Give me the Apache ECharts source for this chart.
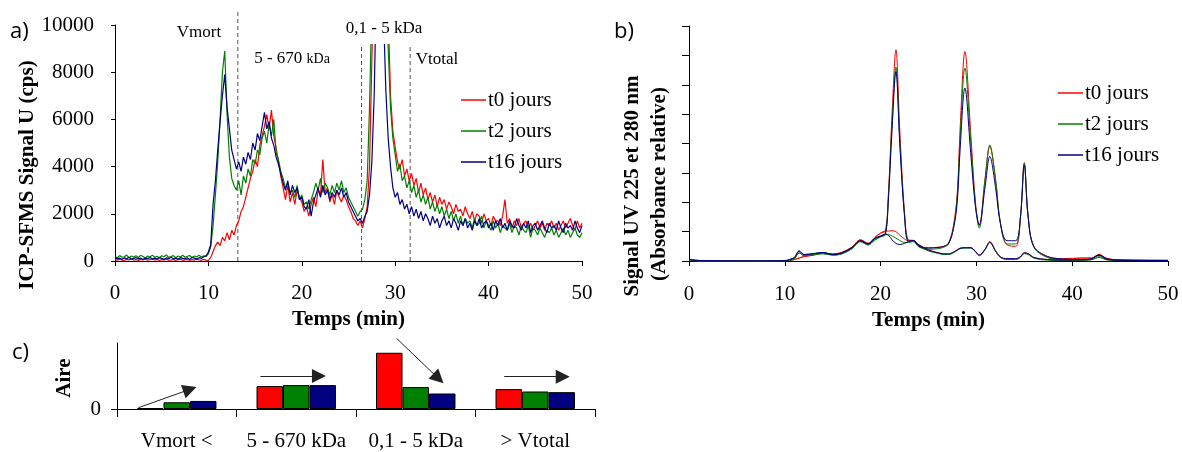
<!DOCTYPE html>
<html><head><meta charset="utf-8">
<script src="https://cdn.jsdelivr.net/npm/echarts@6/dist/echarts.min.js"></script>
<style>html,body{margin:0;padding:0;background:#fff}#c{width:1182px;height:452px}</style>
</head><body><div id="c"></div>
<script>
const SERIF = 'Liberation Serif';
const SANS = 'Open Sans';
const seriesNames = ['t0 jours', 't2 jours', 't16 jours'];
const seriesColors = ['#ff0000', '#008000', '#000080'];

// ---- panel a : ICP-SFMS signal U (cps), one value every 0.25 min, one row per minute ----
const icpStep = 0.25;
const icpT0 = [
 60,30,80,40, 20,70,50,90, 40,60,20,70, 50,80,30,60, 90,40,70,20,
 60,50,80,30, 40,70,20,60, 80,30,50,70, 20,60,40,80, 50,30,70,40,
 30,150,400,650, 800,650,1000,850, 1200,900,1300,1100, 1500,1700,2100,2300, 2700,3100,3500,3800,
 4300,4000,4900,5300, 5700,6200,5600,6400, 5300,4800,4200,3600, 3100,2600,3200,2500, 2900,2400,3000,2700,
 2500,2100,2300,1900, 2400,2700,2300,3000, 2800,4300,2900,3100, 2500,2800,2400,3000, 2700,2500,2800,2600,
 2300,2100,1800,1700, 1500,1700,1400,1800, 2300,4000,8500,13000, 18000,20000,19500,17000, 14000,10500,7000,5500,
 4800,4200,3900,4300, 3600,3900,3400,3700, 3200,3500,2900,3300, 2800,3100,2600,2900, 2500,2800,2300,2700,
 2400,2600,2200,2500, 2300,2000,2400,2100, 2200,1900,2300,2000, 1800,2100,1700,2000, 1900,1600,2000,1700,
 1800,1500,1900,1700, 1700,1500,1900,2600, 1600,1800,1400,1700, 1500,1800,1400,1600, 1700,1400,1600,1300,
 1500,1700,1400,1600, 1300,1600,1500,1700, 1400,1600,1300,1500, 1700,1400,1600,1800, 1500,1300,1700,1400,
 1600
];
const icpT2 = [
 200,140,230,160, 180,250,130,210, 170,220,150,240, 190,130,210,170, 250,160,200,140,
 220,180,260,150, 190,230,140,210, 170,240,160,200, 230,150,210,180, 240,170,220,190,
 300,600,1500,2800, 4200,6000,8000,8900, 6200,4400,3500,3200, 3000,3400,2800,3600, 3300,3900,3600,4300,
 4100,4700,4500,5200, 5500,5000,5800,5300, 6000,4600,4300,3800, 3500,3100,3300,2900, 3000,2700,3200,2600,
 2800,2400,2500,2200, 2600,2900,3300,3000, 3500,2900,3300,3100, 2800,3200,2900,3300, 3000,3400,2900,3100,
 2700,2500,2300,2100, 1900,2100,2200,2600, 3400,6500,11000,15000, 18000,19000,18000,16000, 12500,9000,6500,5200,
 4500,3800,4100,3400, 3600,3100,3400,2900, 3200,2700,3000,2500, 2800,2400,2700,2200, 2500,2100,2400,2000,
 2300,1900,2200,1800, 2100,1700,2000,1600, 1900,1500,1800,1600, 1700,1400,1800,1500, 1600,1900,1400,1700,
 1500,1300,1700,1400, 1600,1200,1500,1400, 1300,1600,1200,1500, 1400,1100,1500,1300, 1200,1500,1000,1400,
 1300,1100,1400,1200, 1000,1300,1200,1400, 1100,1300,1000,1200, 1400,1100,1300,1000, 1200,1400,1100,1000,
 1200
];
const icpT16 = [
 150,90,120,70, 130,100,160,80, 110,140,90,120, 60,130,100,150, 80,120,90,140,
 110,70,130,100, 160,90,120,80, 140,110,100,130, 70,150,120,90, 140,110,180,220,
 380,700,2400,3400, 4700,5900,7000,7900, 6500,5600,4700,4300, 3900,4200,3800,4400, 4100,4600,4300,5000,
 4700,5400,5100,5700, 6300,5600,5900,5200, 4900,4400,4100,3700, 3300,3000,3400,2800, 3200,2900,3100,2600,
 2700,2300,2200,2600, 1900,2500,2800,3100, 2700,3200,2800,3000, 2600,2900,2700,3000, 2800,3100,2700,2900,
 2500,2300,2100,1900, 1700,1800,1600,1900, 2100,2800,4200,7000, 12000,16000,15000,10500, 7200,5200,4000,3100,
 2700,2900,2400,2600, 2200,2400,2000,2300, 1900,2200,1800,2100, 1700,2000,1800,1500, 1900,1600,1800,1400,
 1700,1900,1500,1700, 1400,1800,1600,1300, 1700,1500,1800,1400, 1600,1300,1700,1500, 1800,1400,1600,1700,
 1400,1600,1300,1700, 1500,1800,1400,1600, 1300,1700,1500,1400, 1800,1500,1300,1600, 1400,1700,1200,1500,
 1600,1300,1500,1700, 1400,1200,1600,1400, 1500,1300,1700,1400, 1200,1600,1400,1500, 1300,1700,1400,1200,
 1500
];
const icpCutX = [13.15, 26.4, 31.6];      // Vmort | 5-670 kDa | 0,1-5 kDa | Vtotal boundaries (min)
const icpCutTop = [10550, 9100, 9200];     // top of each dashed boundary (cps)

// ---- panel b : UV absorbance (relative units), two traces per sample ----
const uvTime = [0,1,2,5,8, 10,10.5,11,11.5,12, 13,14,15,16,17, 17.9,18.7,19.4,20,20.5,
 20.8,21.2,21.6,22.0,22.5, 22.9,23.4,24,25,26, 26.6,27.1,27.6,28,28.3, 28.8,29.4,29.9,30.3,30.9,
 31.4,32.0,32.5,33.2,34.1, 34.6,35.0,35.4,36.0,37.4, 39,41,42,42.8,43.6, 45,50];
const uvTallT0 = [0.03,0.01,0,0,0, 0.01,0.02,0.05,0.1,0.15, 0.2,0.27,0.24,0.3,0.47, 0.72,0.6,0.8,0.95,1.02,
 2.2,5.05,7.19,4.47,1.63, 0.72,0.7,0.52,0.45,0.47, 0.5,0.62,1.2,2.3,4.5, 7.13,4.4,2.0,1.2,2.8,
 3.9,2.75,1.3,0.55,0.5, 1.5,3.35,1.55,0.5,0.16, 0.08,0.1,0.1,0.22,0.09, 0.03,0.02];
const uvTallT2 = [0.02,0,0,0,0, 0,0.02,0.08,0.28,0.18, 0.22,0.25,0.2,0.25,0.42, 0.66,0.55,0.72,0.82,0.9,
 2.1,4.7,6.6,4.1,1.55, 0.66,0.68,0.48,0.4,0.42, 0.47,0.58,1.1,2.2,4.2, 6.57,4.1,1.9,1.12,2.75,
 3.95,2.8,1.3,0.58,0.58, 1.5,3.3,1.5,0.47,0.12, 0.05,0.04,0.05,0.15,0.05, 0.02,0.01];
const uvTallT16 = [0.05,0.02,0.01,0,0, 0.01,0.05,0.12,0.34,0.22, 0.25,0.29,0.22,0.28,0.45, 0.69,0.58,0.77,0.85,0.92,
 2.0,4.5,6.45,4.0,1.5, 0.68,0.7,0.5,0.44,0.46, 0.5,0.6,1.1,2.0,3.8, 5.89,3.7,1.85,1.23,2.5,
 3.56,2.5,1.29,0.69,0.69, 1.5,3.27,1.5,0.49,0.15, 0.07,0.05,0.07,0.2,0.07, 0.03,0.02];
const uvShortT0 = [0.03,0.01,0,0,0, 0.01,0.02,0.05,0.1,0.15, 0.2,0.27,0.24,0.3,0.47, 0.72,0.6,0.8,0.95,1.02,
 1.02,1.03,1.0,0.88,0.75, 0.68,0.7,0.55,0.38,0.28, 0.24,0.24,0.3,0.38,0.44, 0.46,0.46,0.33,0.2,0.4,
 0.66,0.35,0.14,0.07,0.07, 0.15,0.28,0.25,0.12,0.05, 0.04,0.1,0.1,0.22,0.09, 0.03,0.02];
const uvShortT2 = [0.02,0,0,0,0, 0,0.02,0.08,0.28,0.18, 0.22,0.25,0.2,0.25,0.42, 0.66,0.55,0.72,0.82,0.9,
 0.9,0.85,0.78,0.7,0.63, 0.63,0.66,0.5,0.34,0.26, 0.22,0.22,0.28,0.36,0.42, 0.44,0.44,0.31,0.18,0.38,
 0.62,0.33,0.12,0.05,0.05, 0.12,0.25,0.22,0.1,0.03, 0.02,0.02,0.04,0.12,0.04, 0.01,0.01];
const uvShortT16 = [0.05,0.02,0.01,0,0, 0.01,0.05,0.12,0.34,0.22, 0.25,0.29,0.22,0.28,0.45, 0.69,0.58,0.77,0.85,0.92,
 0.88,0.72,0.6,0.56,0.6, 0.66,0.7,0.55,0.37,0.28, 0.24,0.24,0.3,0.38,0.43, 0.45,0.45,0.33,0.2,0.4,
 0.64,0.35,0.14,0.08,0.08, 0.15,0.28,0.25,0.12,0.05, 0.03,0.04,0.07,0.2,0.07, 0.03,0.02];

// ---- panel c : areas per fraction ----
const bandLabels = ['Vmort <', '5 - 670 kDa', '0,1 - 5 kDa', '> Vtotal'];
const areaT0 = [1.5, 34.7, 85.2, 30.1];
const areaT2 = [10.2, 36.2, 33.2, 26.5];
const areaT16 = [12.2, 36.2, 23.5, 25.5];
const trendFrom = [[0.18, 2], [1.2, 50], [2.34, 107], [3.24, 49]];   // arrows, x in category units
const trendTo = [[0.61, 29.8], [1.69, 50], [2.69, 46.2], [3.73, 49]];

const pairsStep = (vals, step) => vals.map((v, i) => [i * step, v]);
const pairsT = (ts, vals) => ts.map((t, i) => [t, vals[i]]);

const tickLabel = { fontFamily: SERIF, fontSize: 21, color: '#000' };
const blackLine = { show: true, onZero: false, lineStyle: { color: '#000', width: 1 } };
const nameStyle = { fontFamily: SERIF, fontSize: 21, fontWeight: 'bold', color: '#000' };
const plainNum = v => String(v);

const series = [];
[icpT0, icpT2, icpT16].forEach((vals, k) => series.push({
  type: 'line', name: seriesNames[k], xAxisIndex: 0, yAxisIndex: 0,
  data: pairsStep(vals, icpStep), symbol: 'none', showSymbol: false, clip: true,
  lineStyle: { color: seriesColors[k], width: 1.2 }, itemStyle: { color: seriesColors[k] }, z: 3
}));
icpCutX.forEach((x, k) => series.push({
  type: 'line', name: 'cut' + k, xAxisIndex: 3, yAxisIndex: 3, silent: true,
  data: [[x, 0], [x, icpCutTop[k]]], symbol: 'none',
  lineStyle: { color: '#555', width: 1, type: [4, 3] }, z: 1
}));
[[uvTallT0, uvShortT0], [uvTallT2, uvShortT2], [uvTallT16, uvShortT16]].forEach((pair, k) => {
  pair.forEach(vals => series.push({
    type: 'line', name: seriesNames[k], xAxisIndex: 1, yAxisIndex: 1,
    data: pairsT(uvTime, vals), symbol: 'none', showSymbol: false, smooth: 0.35,
    lineStyle: { color: seriesColors[k], width: 1 }, itemStyle: { color: seriesColors[k] }
  }));
});
[areaT0, areaT2, areaT16].forEach((vals, k) => series.push({
  type: 'bar', name: seriesNames[k], xAxisIndex: 2, yAxisIndex: 2, data: vals,
  barGap: '0%', barCategoryGap: '33.5%',
  itemStyle: { color: seriesColors[k], borderColor: '#000', borderWidth: 1 }
}));
series.push({
  type: 'line', name: 'trend', xAxisIndex: 4, yAxisIndex: 4, data: [], silent: true,
  markLine: {
    silent: true, symbol: ['none', 'triangle'], symbolSize: 14, label: { show: false },
    lineStyle: { color: '#222', width: 1, type: 'solid' },
    emphasis: { disabled: true },
    data: trendFrom.map((f, i) => [{ coord: f }, { coord: trendTo[i] }])
  }
});

const legendBase = {
  data: seriesNames.map((n, k) => ({ name: n, icon: 'rect', itemStyle: { color: seriesColors[k] } })),
  orient: 'vertical', itemWidth: 25, itemHeight: 1.5, itemGap: 7,
  textStyle: { fontFamily: SERIF, fontSize: 21, color: '#000', lineHeight: 24, padding: [0, 0, 0, -3] },
  selectedMode: false
};

const option = {
  animation: false,
  backgroundColor: '#fff',
  textStyle: { fontFamily: SERIF },
  grid: [
    { left: 115, top: 25, width: 467, height: 236 },
    { left: 689, top: 26, width: 479, height: 235 },
    { left: 117, top: 343, width: 478, height: 66 },
    { left: 115, top: 1.4, width: 467, height: 259.6 },
    { left: 117, top: 310, width: 478, height: 99 }
  ],
  legend: [
    Object.assign({}, legendBase, { left: 456, top: 83 }),
    Object.assign({}, legendBase, { left: 1053, top: 76 })
  ],
  xAxis: [
    { gridIndex: 0, type: 'value', min: 0, max: 50, interval: 10, axisLine: blackLine,
      axisTick: { show: true, length: 5, lineStyle: { color: '#000' } }, axisLabel: Object.assign({ margin: 22, formatter: plainNum }, tickLabel),
      splitLine: { show: false }, name: 'Temps (min)', nameLocation: 'middle', nameGap: 43, nameTextStyle: nameStyle },
    { gridIndex: 1, type: 'value', min: 0, max: 50, interval: 10, axisLine: blackLine,
      axisTick: { show: true, length: 5, lineStyle: { color: '#000' } }, axisLabel: Object.assign({ margin: 23, formatter: plainNum }, tickLabel),
      splitLine: { show: false }, name: 'Temps (min)', nameLocation: 'middle', nameGap: 43, nameTextStyle: nameStyle },
    { gridIndex: 2, type: 'category', data: bandLabels, axisLine: blackLine,
      axisTick: { show: true, length: 8, alignWithLabel: false, interval: 0, lineStyle: { color: '#000' } },
      axisLabel: Object.assign({ margin: 22, interval: 0, hideOverlap: false }, tickLabel), splitLine: { show: false } },
    { gridIndex: 3, type: 'value', min: 0, max: 50, show: false },
    { gridIndex: 4, type: 'value', min: 0, max: 4, show: false }
  ],
  yAxis: [
    { gridIndex: 0, type: 'value', min: 0, max: 10000, interval: 2000, axisLine: blackLine,
      axisTick: { show: true, length: 4, lineStyle: { color: '#000' } }, axisLabel: Object.assign({ margin: 21, formatter: plainNum }, tickLabel),
      splitLine: { show: false } },
    { gridIndex: 1, type: 'value', min: 0, max: 8, interval: 1, axisLine: blackLine,
      axisTick: { show: true, length: 7, lineStyle: { color: '#000' } }, axisLabel: { show: false },
      splitLine: { show: false } },
    { gridIndex: 2, type: 'value', min: 0, max: 100, interval: 100, axisLine: blackLine,
      axisTick: { show: true, length: 6, customValues: [0], lineStyle: { color: '#000' } },
      axisLabel: Object.assign({ margin: 16, customValues: [0], formatter: plainNum }, tickLabel), splitLine: { show: false } },
    { gridIndex: 3, type: 'value', min: 0, max: 11000, show: false },
    { gridIndex: 4, type: 'value', min: 0, max: 150, show: false }
  ],
  graphic: [
    { type: 'text', x: 10, y: 32, z: 100, style: { text: 'a)', fontFamily: SANS, fontSize: 22, fill: '#000', verticalAlign: 'middle' } },
    { type: 'text', x: 614, y: 32, z: 100, style: { text: 'b)', fontFamily: SANS, fontSize: 22, fill: '#000', verticalAlign: 'middle' } },
    { type: 'text', x: 12, y: 353, z: 100, style: { text: 'c)', fontFamily: SANS, fontSize: 22, fill: '#000', verticalAlign: 'middle' } },
    { type: 'text', x: 28, y: 175, rotation: Math.PI / 2, z: 100, style: { text: 'ICP-SFMS Signal U (cps)', fontFamily: SERIF, fontSize: 21, fontWeight: 'bold', fill: '#000', align: 'center', verticalAlign: 'middle' } },
    { type: 'text', x: 633, y: 186, rotation: Math.PI / 2, z: 100, style: { text: 'Signal UV 225 et 280 nm', fontFamily: SERIF, fontSize: 21, fontWeight: 'bold', fill: '#000', align: 'center', verticalAlign: 'middle' } },
    { type: 'text', x: 660, y: 184, rotation: Math.PI / 2, z: 100, style: { text: '(Absorbance relative)', fontFamily: SERIF, fontSize: 21, fontWeight: 'bold', fill: '#000', align: 'center', verticalAlign: 'middle' } },
    { type: 'text', x: 65, y: 378, rotation: Math.PI / 2, z: 100, style: { text: 'Aire', fontFamily: SERIF, fontSize: 21, fontWeight: 'bold', fill: '#000', align: 'center', verticalAlign: 'middle' } },
    { type: 'text', x: 199, y: 33, z: 100, style: { text: 'Vmort', fontFamily: SERIF, fontSize: 17, fill: '#000', align: 'center', verticalAlign: 'middle' } },
    { type: 'text', x: 292, y: 59, z: 100, style: { text: '{a|5 - 670 }{b|kDa}', fill: '#000', align: 'center', verticalAlign: 'middle',
      rich: { a: { fontFamily: SERIF, fontSize: 17, fill: '#000' }, b: { fontFamily: SERIF, fontSize: 14, fill: '#000' } } } },
    { type: 'text', x: 384, y: 29, z: 100, style: { text: '0,1 - 5 kDa', fontFamily: SERIF, fontSize: 17, fill: '#000', align: 'center', verticalAlign: 'middle', backgroundColor: '#fff', padding: [6, 4, 7, 4] } },
    { type: 'text', x: 437, y: 60, z: 100, style: { text: 'Vtotal', fontFamily: SERIF, fontSize: 17, fill: '#000', align: 'center', verticalAlign: 'middle' } }
  ],
  series: series
};
const chart = echarts.init(document.getElementById('c'));
chart.setOption(option);
</script></body></html>
